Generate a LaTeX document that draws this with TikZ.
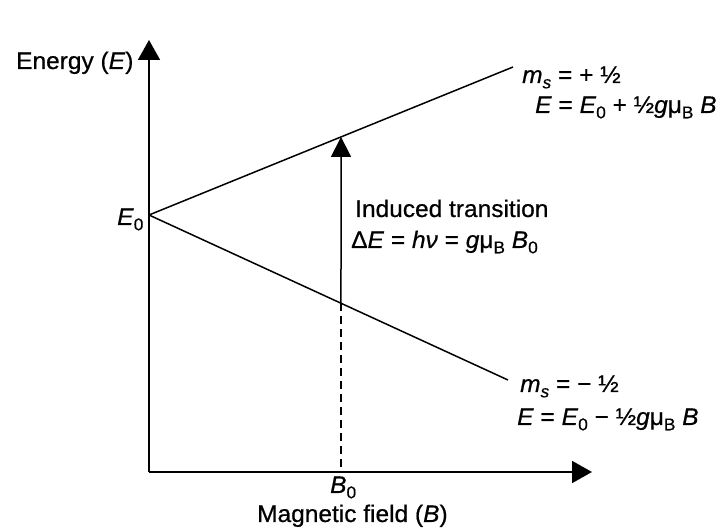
\documentclass[tikz,border=0pt]{standalone}
\usepackage{fontspec}
\setmainfont{Liberation Sans}[FakeStretch=1.02,FakeBold=0.6]
\usetikzlibrary{arrows.meta,calc}
\newcommand{\lsub}[1]{\raisebox{-0.22em}{\fontsize{17}{17}\selectfont #1}}
\begin{document}
\begin{tikzpicture}[x=1pt,y=-1pt,
  lbl/.style={anchor=base west,inner sep=0pt,font=\fontsize{24}{28}\selectfont},
  axis/.style={line width=1.8pt,-{Triangle[width=22pt,length=20pt]}},
  level/.style={line width=1.5pt}]
\useasboundingbox (0,0) rectangle (724,529);
\coordinate (O) at (149,472);
\coordinate (Ytop) at (149,40);
\coordinate (Xend) at (592,472);
\coordinate (E0) at (149,215);
\coordinate (Up) at (513,67);
\coordinate (Low) at (508,380);
\draw[axis] (O) -- (Ytop);
\draw[axis] (O) -- (Xend);
\draw[level] (E0) -- (Up);
\draw[level] (E0) -- (Low);
\coordinate (T2) at ($(E0)!0.5275!(Up)$);
\coordinate (T1) at ($(E0)!0.5348!(Low)$);
\draw[line width=1.5pt,-{Triangle[width=20pt,length=20pt]}] (T1) -- (T2);
\draw[line width=1.5pt,dash pattern=on 8pt off 5pt] (T1) -- (T1 |- O);
\node[lbl] (lE) at (16,69) {Energy (\textit{E})};
\node[lbl] (lE0) at (117,225) {\textit{E}\lsub{0}};
\node[lbl] (lmp) at (522,83) {\textit{m}\lsub{\textit{s}} = + ½};
\node[lbl] (lEp) at (535,113) {\textit{E} = \textit{E}\lsub{0} + ½\textit{g}μ\lsub{B} \textit{B}};
\node[lbl] (lind) at (355,217) {Induced transition};
\node[lbl] (ldE) at (351,248) {Δ\textit{E} = \textit{hν} = \textit{g}μ\lsub{B} \textit{B}\lsub{0}};
\node[lbl] (lmm) at (520,392) {\textit{m}\lsub{\textit{s}} = − ½};
\node[lbl] (lEm) at (517,425) {\textit{E} = \textit{E}\lsub{0} − ½\textit{g}μ\lsub{B} \textit{B}};
\node[lbl] (lB0) at (330,493) {\textit{B}\lsub{0}};
\node[lbl] (lmag) at (257,522) {Magnetic field (\textit{B})};
\end{tikzpicture}
\end{document}
